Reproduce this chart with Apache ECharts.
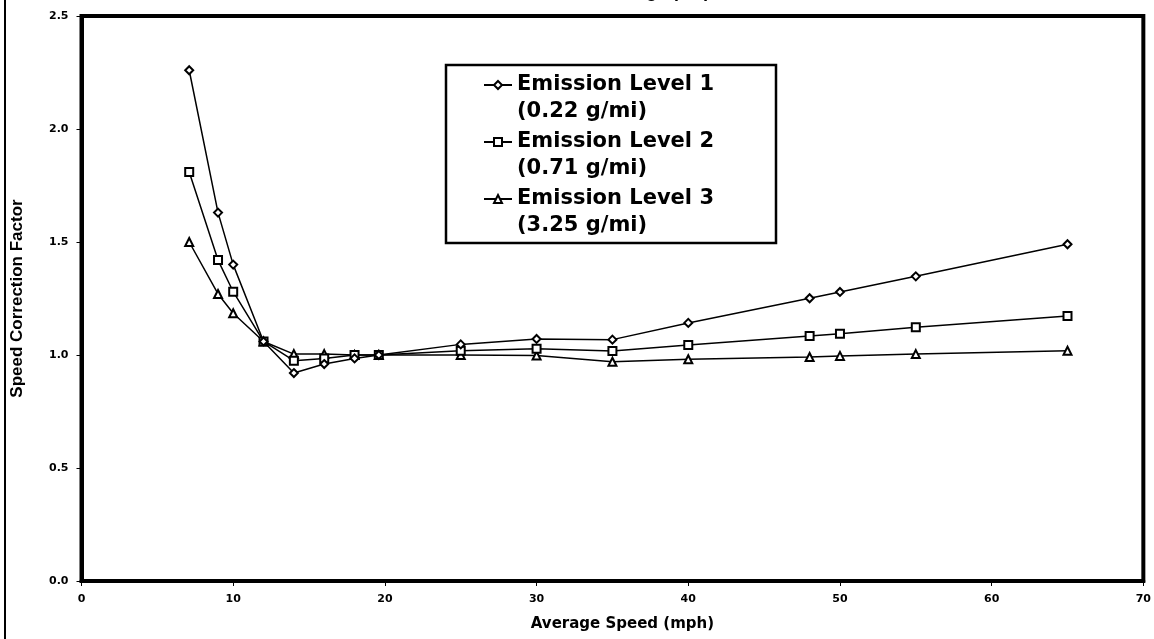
<!DOCTYPE html>
<html>
<head>
<meta charset="utf-8">
<script src="https://cdn.jsdelivr.net/npm/echarts@6/dist/echarts.min.js"></script>
<style>
html,body{margin:0;padding:0;background:#fff;}
#chart{width:1154px;height:639px;}
</style>
</head>
<body>
<div id="chart"></div>
<script>
// ---- data ----
var speeds = [7.1, 9, 10, 12, 14, 16, 18, 19.6, 25, 30, 35, 40, 48, 50, 55, 65];
var level1 = [2.26, 1.63, 1.40, 1.06, 0.92, 0.96, 0.985, 1.0, 1.047, 1.071, 1.068, 1.142, 1.251, 1.279, 1.348, 1.490];
var level2 = [1.81, 1.42, 1.28, 1.06, 0.975, 0.985, 1.0, 1.0, 1.019, 1.028, 1.018, 1.044, 1.084, 1.094, 1.123, 1.173];
var level3 = [1.50, 1.27, 1.185, 1.06, 1.004, 1.004, 1.0, 1.0, 1.0, 0.998, 0.970, 0.981, 0.991, 0.996, 1.004, 1.019];
var seriesNames = ['Emission Level 1\n(0.22 g/mi)', 'Emission Level 2\n(0.71 g/mi)', 'Emission Level 3\n(3.25 g/mi)'];
var xAxisTitle = 'Average Speed (mph)';
var yAxisTitle = 'Speed Correction Factor';
var chartTitle = 'Emission Range (HC)';

function pairs(xs, ys) {
  var out = [];
  for (var i = 0; i < xs.length; i++) out.push([xs[i], ys[i]]);
  return out;
}

var chart = echarts.init(document.getElementById('chart'), null, {renderer: 'canvas'});
var tickFont = {fontFamily: 'DejaVu Sans', fontWeight: 'bold', fontSize: 11, color: '#000'};
var symbols = ['emptyDiamond', 'emptyRect', 'emptyTriangle'];
var sizes = [8, 8, 8];
var allData = [level1, level2, level3];

var series = allData.map(function (d, i) {
  return {
    name: seriesNames[i],
    type: 'line',
    data: pairs(speeds, d),
    symbol: symbols[i],
    symbolSize: sizes[i],
    showAllSymbol: true,
    lineStyle: {color: '#000', width: 1.5},
    itemStyle: {color: '#000', borderColor: '#000', borderWidth: 1.5},
    emphasis: {disabled: true},
    animation: false,
    z: 3 - i
  };
});

chart.setOption({
  backgroundColor: '#fff',
  animation: false,
  title: {
    text: chartTitle,
    left: 527,
    top: -17,
    padding: 0,
    textStyle: {fontFamily: 'Liberation Sans', fontWeight: 'bold', fontSize: 18, color: '#000'}
  },
  grid: {
    left: 81.5, right: 7.5, top: 16, bottom: 58,
    show: true, borderColor: '#000', borderWidth: 4, backgroundColor: '#fff'
  },
  legend: {
    orient: 'vertical',
    left: 483,
    top: 44.5,
    padding: 0,
    itemWidth: 28,
    itemHeight: 10,
    itemGap: -24,
    selectedMode: false,
    data: seriesNames,
    // leading blank line keeps the symbol level with the first text line
    formatter: function (name) { return '\n' + name; },
    textStyle: {
      fontFamily: 'DejaVu Sans', fontWeight: 'bold', fontSize: 21, color: '#000',
      lineHeight: 27
    }
  },
  xAxis: {
    type: 'value', min: 0, max: 70, interval: 10,
    name: xAxisTitle, nameLocation: 'middle', nameGap: 36,
    nameTextStyle: {fontFamily: 'DejaVu Sans', fontWeight: 'bold', fontSize: 15, color: '#000', padding: [0, 0, 0, 20]},
    axisLine: {show: true, lineStyle: {color: '#000', width: 4}},
    axisTick: {show: true, length: 5, lineStyle: {color: '#000', width: 1}},
    axisLabel: Object.assign({margin: 13}, tickFont),
    splitLine: {show: false}
  },
  yAxis: {
    type: 'value', min: 0, max: 2.5, interval: 0.5,
    name: yAxisTitle, nameLocation: 'middle', nameGap: 56, nameRotate: 90,
    nameTextStyle: {fontFamily: 'Liberation Sans', fontWeight: 'bold', fontSize: 17, color: '#000'},
    axisLine: {show: true, lineStyle: {color: '#000', width: 4}},
    axisTick: {show: true, length: 5, lineStyle: {color: '#000', width: 1}},
    axisLabel: Object.assign({margin: 13, formatter: function (v) { return v.toFixed(1); }}, tickFont),
    splitLine: {show: false}
  },
  graphic: [
    {type: 'line', shape: {x1: 5, y1: 0, x2: 5, y2: 639}, style: {stroke: '#000', lineWidth: 2}, z: 100},
    {type: 'rect', shape: {x: 446, y: 65, width: 330, height: 178}, style: {fill: null, stroke: '#000', lineWidth: 2.5}, z: 100}
  ],
  series: series
});
</script>
</body>
</html>
